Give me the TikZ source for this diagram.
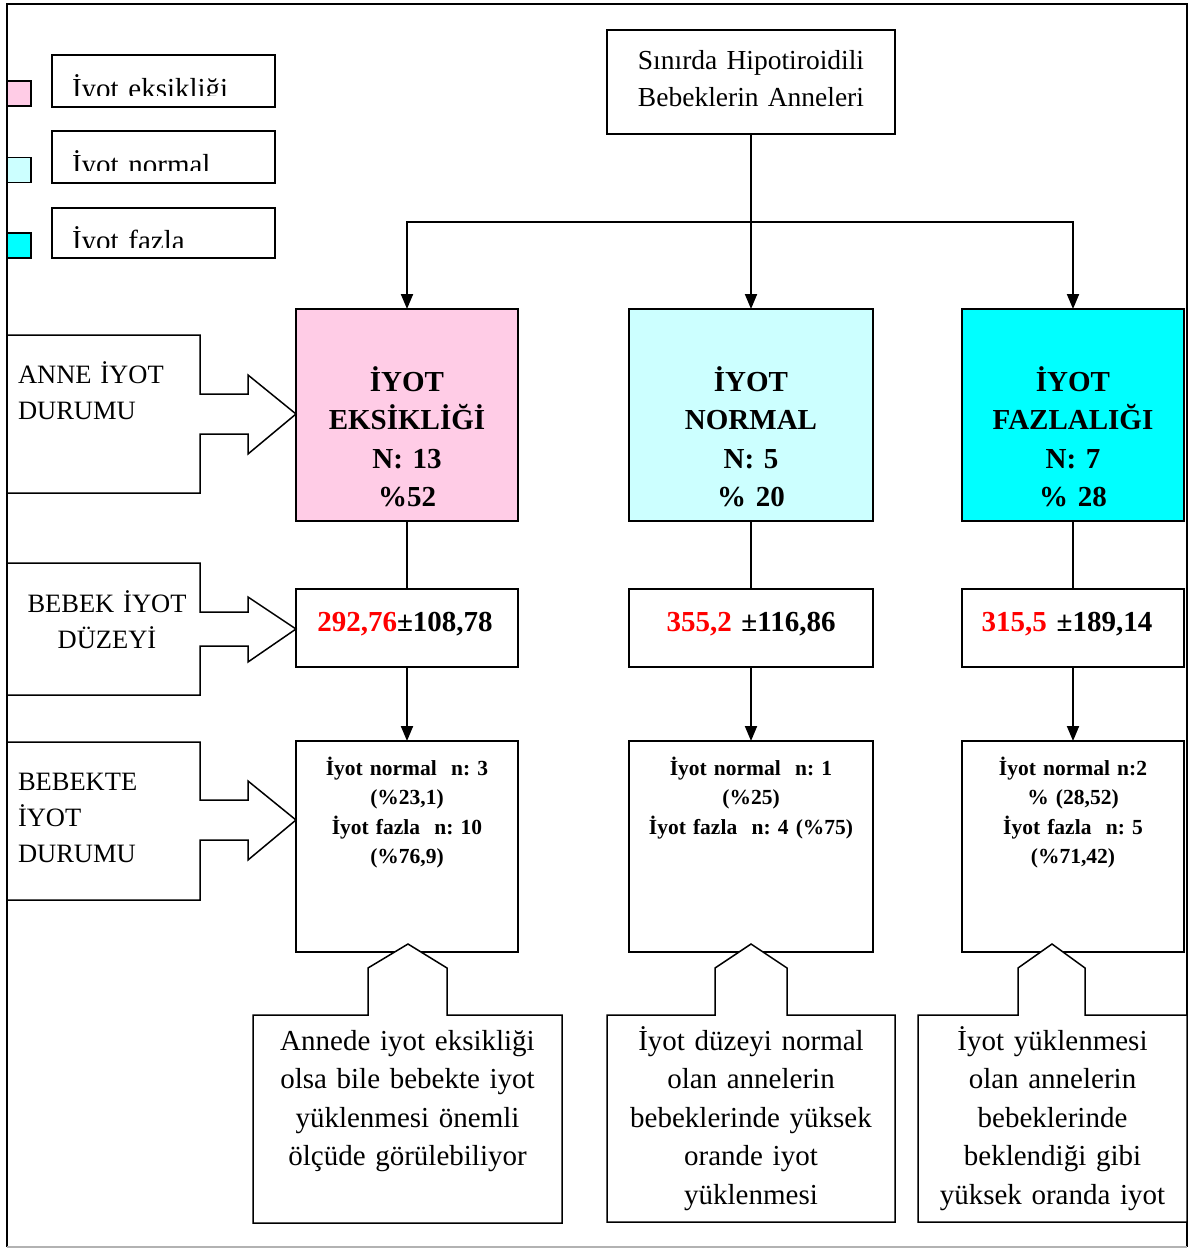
\documentclass[tikz,border=0pt]{standalone}
\usepackage{fontspec}
\setmainfont{Liberation Serif}
\usetikzlibrary{arrows.meta}
\definecolor{lowpink}{HTML}{FFCCE6}
\definecolor{normcyan}{HTML}{CCFFFF}
\definecolor{highcyan}{HTML}{00FFFF}
\begin{document}
\frenchspacing
\begin{tikzpicture}[x=1pt,y=-1pt,
  panel/.style={draw=black,line width=1.5pt,inner sep=0pt,outer sep=0pt,rectangle},
  swatch/.style={panel,minimum width=24pt,minimum height=25pt},
  legendbox/.style={panel,minimum width=223pt,minimum height=51pt},
  groupbox/.style={panel,minimum height=212pt},
  valuebox/.style={panel,minimum height=78pt},
  resultbox/.style={panel,minimum height=211pt},
  outline/.style={draw=black,fill=white,line width=1.5pt,line join=miter},
  flow/.style={line width=2pt,-{Triangle[length=15pt,width=12pt]}},
  link/.style={line width=1.5pt},
  txt/.style={inner sep=0pt,outer sep=0pt,anchor=base,align=center,text width=#1},
  txt/.default=320pt,
  lefttxt/.style={inner sep=0pt,outer sep=0pt,anchor=base west,align=left,text width=#1},
  lefttxt/.default=180pt,
  reg/.style={font=\fontsize{27.5}{36.5}\selectfont},
  rowlabel/.style={font=\fontsize{26.5}{36}\selectfont},
  legendfont/.style={font=\fontsize{29}{34}\selectfont},
  note/.style={font=\fontsize{29}{38.6}\selectfont},
  head/.style={font=\bfseries\fontsize{29}{38.6}\selectfont},
  small/.style={font=\bfseries\fontsize{21.5}{29.5}\selectfont}
]
\useasboundingbox (0,0) rectangle (1192,1249);

% outer frame
\draw[line width=1.5pt] (7,1247) -- (7,4) -- (1187,4) -- (1187,1247);
\draw[black!30,line width=1.5pt] (7,1247) -- (1187,1247);

% legend
\node[swatch,fill=lowpink] (swLow) at (19,93.5) {};
\node[swatch,fill=normcyan] (swNorm) at (19,170) {};
\node[swatch,fill=highcyan] (swHigh) at (19,245.5) {};
\node[legendbox,minimum height=52pt] (legLow) at (163.5,81) {};
\node[legendbox,minimum height=52pt] (legNorm) at (163.5,157) {};
\node[legendbox,minimum height=50pt] (legHigh) at (163.5,233) {};
\begin{scope}
  \clip (52,56) rectangle (275,95.5);
  \node[lefttxt,legendfont] (legLowTxt) at (72,99) {İyot eksikliği};
\end{scope}
\begin{scope}
  \clip (52,132) rectangle (275,171);
  \node[lefttxt,legendfont] (legNormTxt) at (72,174.5) {İyot normal};
\end{scope}
\begin{scope}
  \clip (52,209) rectangle (275,247.3);
  \node[lefttxt,legendfont] (legHighTxt) at (72,250.8) {İyot fazla};
\end{scope}

% source box
\node[panel,minimum width=288pt,minimum height=104pt] (src) at (751,82) {};
\node[txt,reg] (srcTxt) at (751,70) {Sınırda Hipotiroidili\\Bebeklerin Anneleri};

% maternal iodine groups
\node[groupbox,fill=lowpink,minimum width=222pt] (low) at (407,415) {};
\node[groupbox,fill=normcyan,minimum width=244pt] (mid) at (751,415) {};
\node[groupbox,fill=highcyan,minimum width=222pt] (high) at (1073,415) {};
\node[txt,head] (lowTxt) at (407,391) {İYOT\\EKSİKLİĞİ\\N: 13\\\%52};
\node[txt,head] (midTxt) at (751,391) {İYOT\\NORMAL\\N: 5\\\% 20};
\node[txt,head] (highTxt) at (1073,391) {İYOT\\FAZLALIĞI\\N: 7\\\% 28};

\coordinate (split) at (751,222);
\draw[flow] (src.south) -- (mid.north);
\draw[flow] (split) -| (low.north);
\draw[flow] (split) -| (high.north);

% infant iodine levels
\node[valuebox,minimum width=222pt] (lowVal) at (407,628) {};
\node[valuebox,minimum width=244pt] (midVal) at (751,628) {};
\node[valuebox,minimum width=222pt] (highVal) at (1073,628) {};
\node[txt,head] (lowValTxt) at (405,631) {\textcolor{red}{292,76}±108,78};
\node[txt,head] (midValTxt) at (751,631) {\textcolor{red}{355,2} ±116,86};
\node[txt,head] (highValTxt) at (1067,631) {\textcolor{red}{315,5} ±189,14};
\draw[link] (low.south) -- (lowVal.north);
\draw[link] (mid.south) -- (midVal.north);
\draw[link] (high.south) -- (highVal.north);

% infant iodine status
\node[resultbox,minimum width=222pt] (lowRes) at (407,846.5) {};
\node[resultbox,minimum width=244pt] (midRes) at (751,846.5) {};
\node[resultbox,minimum width=222pt] (highRes) at (1073,846.5) {};
\node[txt,small] (lowResTxt) at (407,775) {İyot normal~ n: 3\\(\%23,1)\\İyot fazla~ n: 10\\(\%76,9)};
\node[txt,small] (midResTxt) at (751,775) {İyot normal~ n: 1\\(\%25)\\İyot fazla~ n: 4 (\%75)};
\node[txt,small] (highResTxt) at (1073,775) {İyot normal n:2\\\% (28,52)\\İyot fazla~ n: 5\\(\%71,42)};
\draw[flow] (lowVal.south) -- (lowRes.north);
\draw[flow] (midVal.south) -- (midRes.north);
\draw[flow] (highVal.south) -- (highRes.north);

% row labels with block arrows
\draw[outline] (7,335) -- (200,335) -- (200,394) -- (248,394) -- (248,375) -- (296,414)
  -- (248,454) -- (248,434) -- (200,434) -- (200,493) -- (7,493) -- cycle;
\node[lefttxt,rowlabel] (rowMother) at (18,383) {ANNE İYOT\\DURUMU};
\draw[outline] (7,563) -- (200,563) -- (200,612) -- (248,612) -- (248,597) -- (296,629)
  -- (248,662) -- (248,646) -- (200,646) -- (200,695) -- (7,695) -- cycle;
\node[txt,rowlabel,text width=180pt] (rowLevel) at (107,612) {BEBEK İYOT\\DÜZEYİ};
\draw[outline] (7,742) -- (200,742) -- (200,800) -- (248,800) -- (248,781) -- (296,820)
  -- (248,860) -- (248,840) -- (200,840) -- (200,900) -- (7,900) -- cycle;
\node[lefttxt,rowlabel] (rowInfant) at (18,790) {BEBEKTE\\İYOT\\DURUMU};

% comment callouts
\draw[outline] (253,1015) -- (368,1015) -- (368,968) -- (408,944) -- (447,968) -- (447,1015)
  -- (562,1015) -- (562,1223) -- (253,1223) -- cycle;
\node[txt,note] (lowNote) at (407.5,1050) {Annede iyot eksikliği\\olsa bile bebekte iyot\\yüklenmesi önemli\\ölçüde görülebiliyor};
\draw[outline] (607,1015) -- (715,1015) -- (715,968) -- (751,944) -- (787,968) -- (787,1015)
  -- (895,1015) -- (895,1222) -- (607,1222) -- cycle;
\node[txt,note] (midNote) at (751,1050) {İyot düzeyi normal\\olan annelerin\\bebeklerinde yüksek\\orande iyot\\yüklenmesi};
\draw[outline] (918,1015) -- (1018,1015) -- (1018,968) -- (1052,944) -- (1085,968) -- (1085,1015)
  -- (1187,1015) -- (1187,1222) -- (918,1222) -- cycle;
\node[txt,note] (highNote) at (1052.5,1050) {İyot yüklenmesi\\olan annelerin\\bebeklerinde\\beklendiği gibi\\yüksek oranda iyot};
\end{tikzpicture}
\end{document}
